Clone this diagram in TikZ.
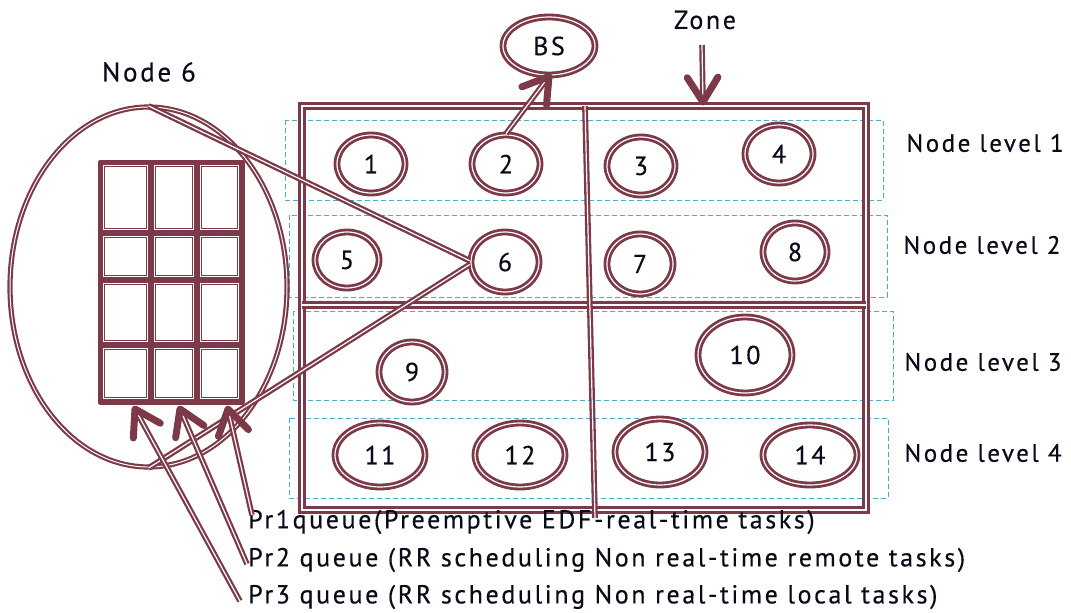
\documentclass[tikz,border=0pt]{standalone}
\usepackage{fontspec}
\setmainfont{PT Sans}
\newfontfamily\spaced{PT Sans}[LetterSpace=10,FakeBold=0.4]
\usetikzlibrary{shapes.geometric,calc}
\definecolor{wine}{RGB}{124,58,72}
\definecolor{lvl}{RGB}{80,172,200}
\definecolor{ink}{RGB}{10,10,24}
\begin{document}
\begin{tikzpicture}[x=1pt,y=-1pt,
  dbl/.style={draw=wine,line width=2.8pt,double=white,double distance=1.2pt},
  thindbl/.style={draw=wine,line width=2.1pt,double=white,double distance=1pt},
  framedbl/.style={draw=wine,line width=3.4pt,double=white,double distance=1.5pt},
  peer/.style={ellipse,dbl,inner sep=0pt,text=ink,font=\spaced\fontsize{26}{28}\selectfont},
  levelbox/.style={draw=lvl,line width=1pt,dash pattern=on 5pt off 3pt},
  lbl/.style={text=ink,font=\spaced\fontsize{25}{28}\selectfont,inner sep=0pt},
  qlbl/.style={lbl,font=\spaced\fontsize{26}{28}\selectfont,anchor=west},
  chevron/.style={draw=wine,line width=7pt,line cap=round,line join=round},
  cell/.style={draw=wine,line width=1.3pt,double=white,double distance=1pt},
]
\useasboundingbox (0,0) rectangle (1071,613);

% arrow: double shaft from #2 to #3 with a bold open head at #3
\newcommand{\wineArrow}[3][2.2pt]{%
  \draw[dbl,line width=#1,double distance=1.2pt,shorten >=4pt] (#2) -- (#3);
  \draw[chevron] ($(#3)!29pt!32:(#2)$) -- (#3) -- ($(#3)!29pt!-32:(#2)$);
}

% node level bands
\draw[levelbox] (285,120) rectangle (883,200);
\draw[levelbox] (289,215) rectangle (887,297);
\draw[levelbox] (293,311) rectangle (893,400);
\draw[levelbox] (289,418) rectangle (888,498);

% zone frame with its dividers
\node[framedbl,minimum width=564pt,minimum height=404pt,inner sep=0pt] (zone) at (584,308) {};
\coordinate (midL) at (302,305);
\coordinate (midR) at (866,305);
\coordinate (vtop) at (585,106);
\coordinate (vbot) at (595,518);
\draw[framedbl] (midL) -- (midR);
\draw[dbl,line width=2.3pt] (vtop) -- (vbot);

% level labels
\node[lbl] (lv1) at (985,143) {Node level 1};
\node[lbl] (lv2) at (982,245) {Node level 2};
\node[lbl] (lv3) at (983,362) {Node level 3};
\node[lbl] (lv4) at (983,453) {Node level 4};

% zone label and arrow
\node[lbl,font=\spaced\fontsize{26}{30}\selectfont] (zlabel) at (705,20) {Zone};
\coordinate (ztail) at (702,45);
\coordinate (ztip) at (703,102);
\wineArrow{ztail}{ztip}

% sensor nodes
\node[peer,minimum width=68pt,minimum height=58pt] (n1) at (371,164) {1};
\node[peer,minimum width=68pt,minimum height=58pt] (n2) at (506,164) {2};
\node[peer,minimum width=68pt,minimum height=58pt] (n3) at (641,166) {3};
\node[peer,minimum width=68pt,minimum height=58pt] (n4) at (779,154) {4};
\node[peer,minimum width=64pt,minimum height=56pt] (n5) at (347,260) {5};
\node[peer,minimum width=68pt,minimum height=60pt] (n6) at (505,262) {6};
\node[peer,minimum width=66pt,minimum height=60pt] (n7) at (640,264) {7};
\node[peer,minimum width=64pt,minimum height=58pt] (n8) at (795,252) {8};
\node[peer,minimum width=66pt,minimum height=60pt] (n9) at (412,372) {9};
\node[peer,minimum width=94pt,minimum height=76pt] (n10) at (745,355) {10};
\node[peer,minimum width=90pt,minimum height=64pt] (n11) at (380,455) {11};
\node[peer,minimum width=90pt,minimum height=64pt] (n12) at (520,455) {12};
\node[peer,minimum width=90pt,minimum height=66pt] (n13) at (660,452) {13};
\node[peer,minimum width=94pt,minimum height=60pt] (n14) at (810,455) {14};

% base station
\node[peer,minimum width=92pt,minimum height=58pt] (bs) at (549,46) {BS};
\wineArrow{n2.north}{bs.south}

% node 6 enlarged
\node[lbl,font=\spaced\fontsize{27}{30}\selectfont] (n6label) at (149,72) {Node 6};
\node[ellipse,thindbl,minimum width=277pt,minimum height=360pt,inner sep=0pt] (big) at (148.5,287) {};
\draw[dbl,line width=2.3pt] (big.north) -- (n6.178);
\draw[dbl,line width=2.3pt] (n6.184) -- (big.south);

% queue grid
\foreach \xa/\xb in {100/151,151/197,197/242}{
  \foreach \ya/\yb in {162/233,233/280,280/345,345/402}{
    \draw[cell] (\xa+3.4,\ya+3.4) rectangle (\xb-3.4,\yb-3.4);
  }
}
\draw[wine,line width=5pt,line join=round] (100,162) rectangle (242,402);
\foreach \xx in {151,197} \draw[wine,line width=5pt] (\xx,162) -- (\xx,402);
\foreach \yy in {233,280,345} \draw[wine,line width=5pt] (100,\yy) -- (242,\yy);

% queue descriptions
\node[qlbl] (pr1) at (248,522) {Pr1queue(Preemptive EDF-real-time tasks)};
\node[qlbl] (pr2) at (248,560) {Pr2 queue (RR scheduling Non real-time remote tasks)};
\node[qlbl] (pr3) at (248,597) {Pr3 queue (RR scheduling Non real-time local tasks)};

\coordinate (q1) at (228,409);
\coordinate (q2) at (180,409);
\coordinate (q3) at (135,409);
\coordinate (t1) at (252,515);
\coordinate (t2) at (247,564);
\coordinate (t3) at (240,601);
\wineArrow{t1}{q1}
\wineArrow{t2}{q2}
\wineArrow{t3}{q3}
\end{tikzpicture}
\end{document}
